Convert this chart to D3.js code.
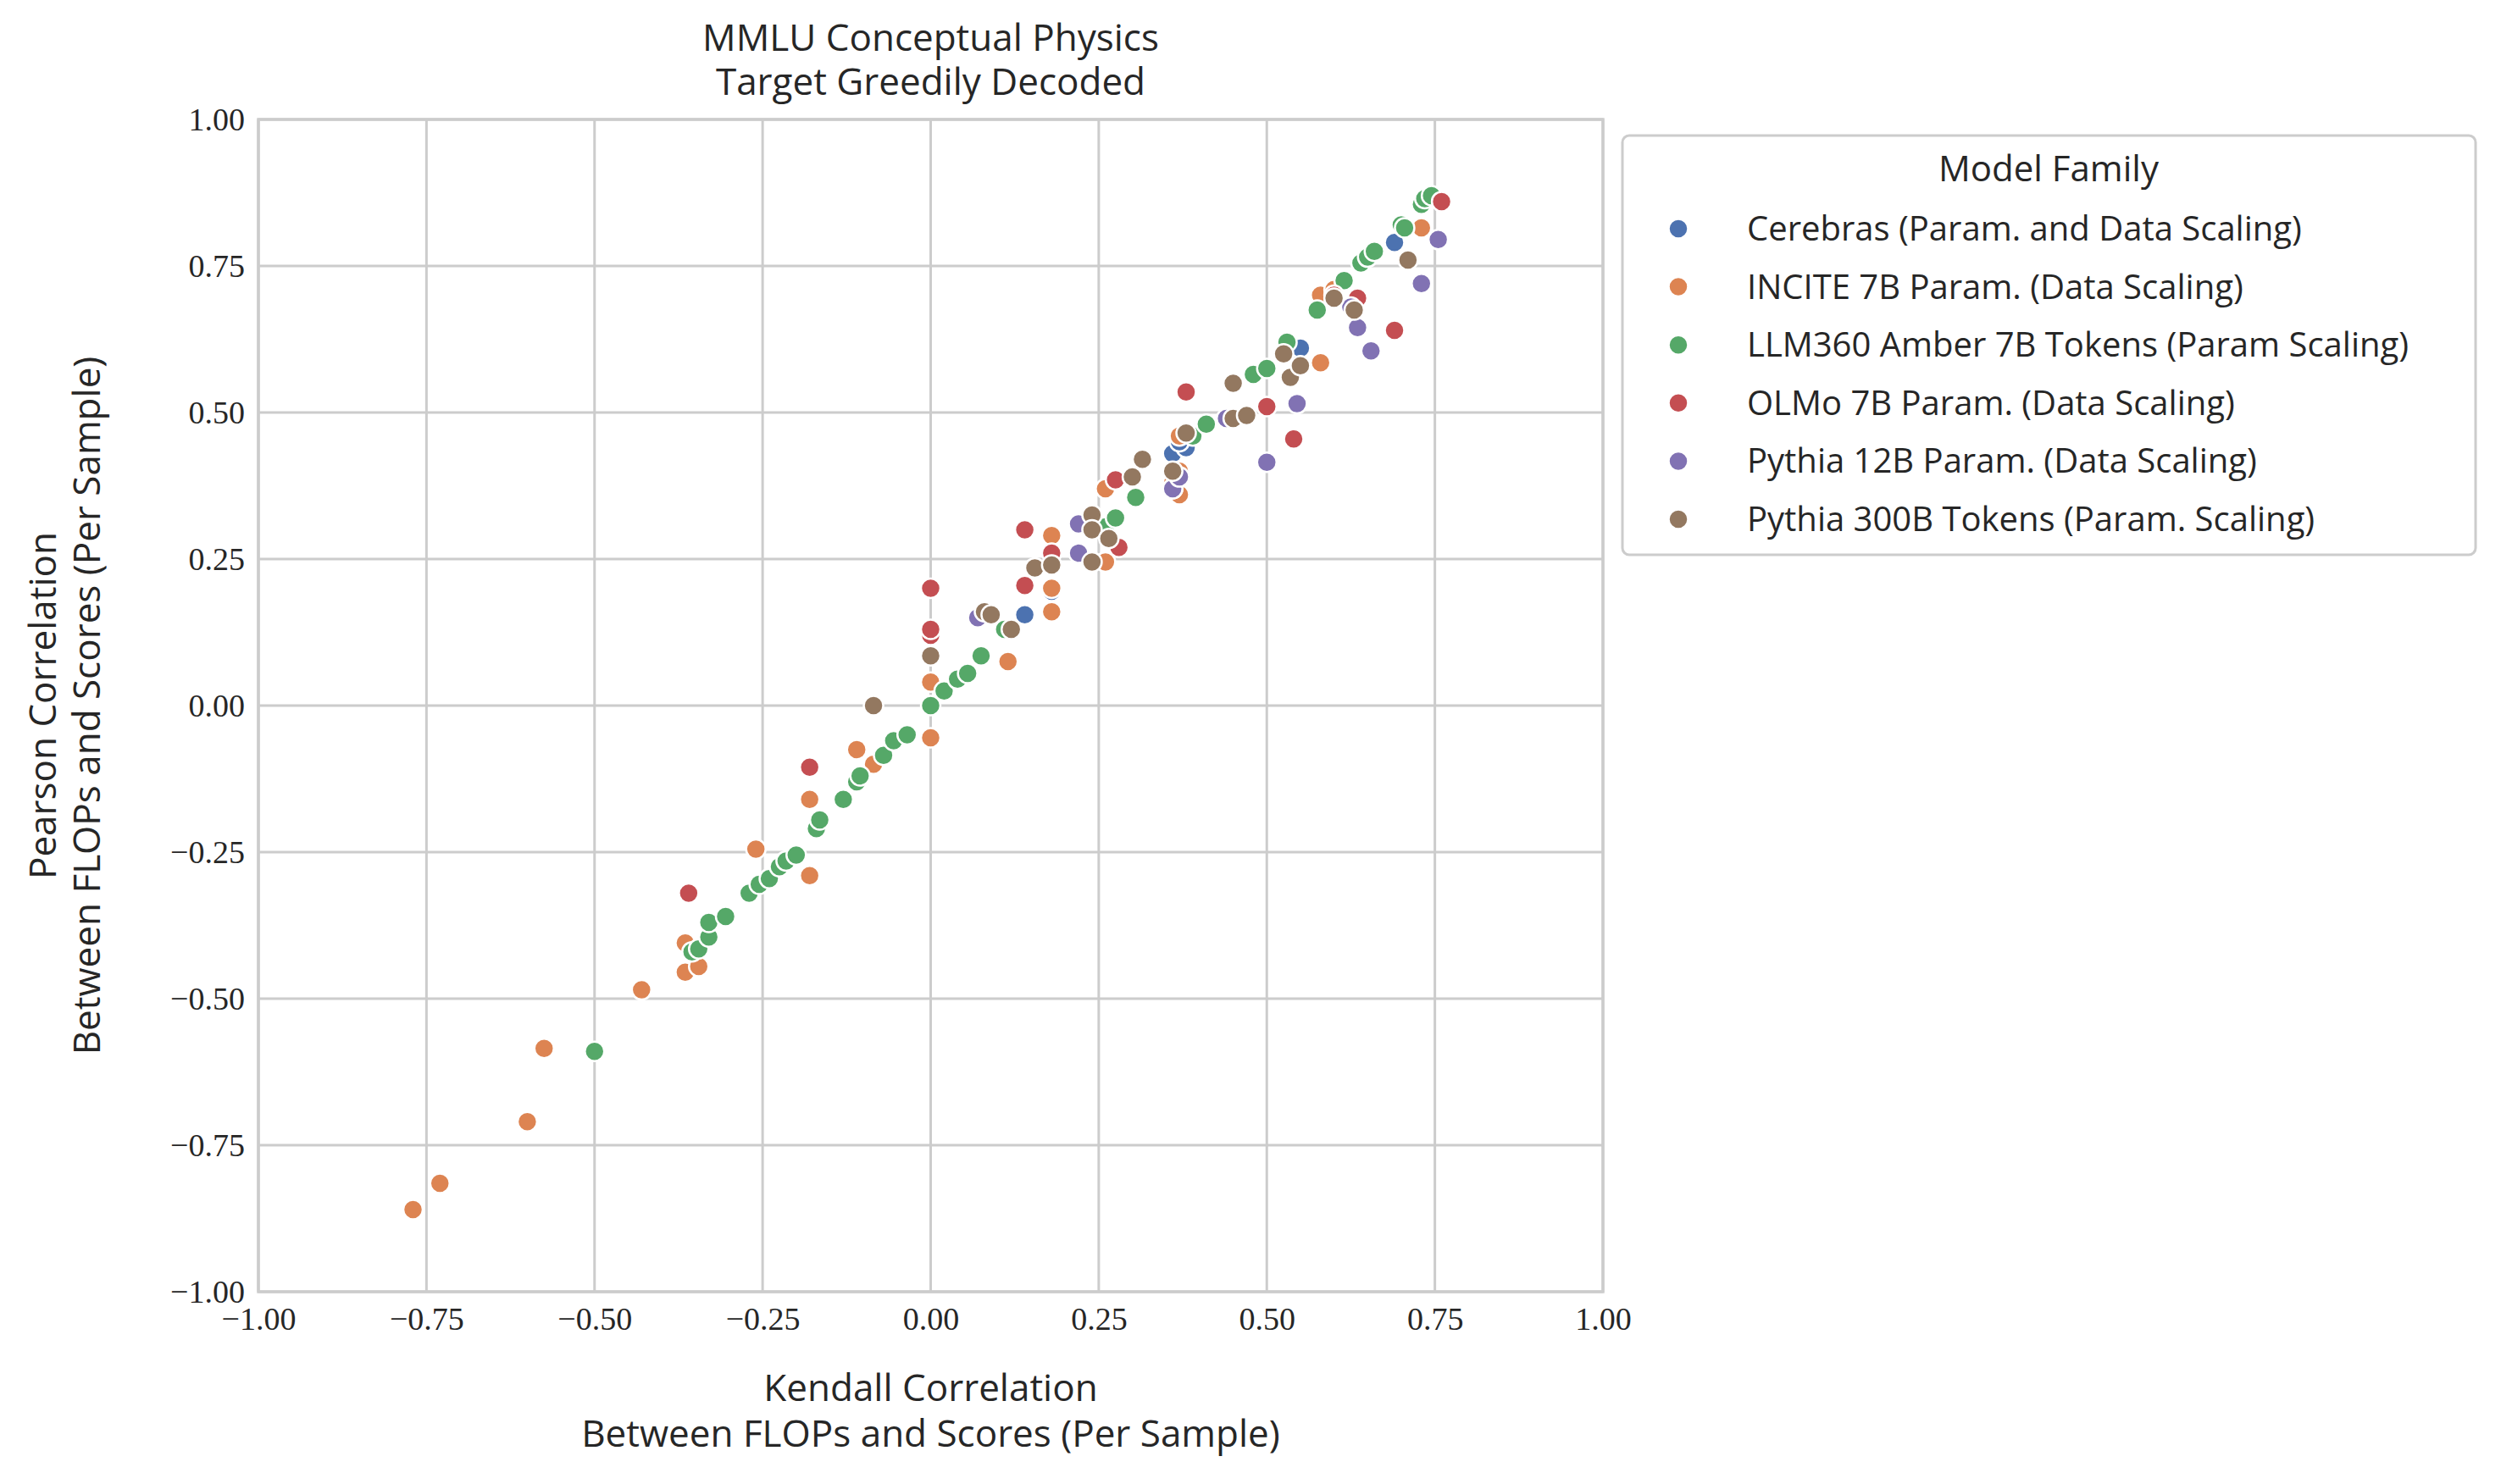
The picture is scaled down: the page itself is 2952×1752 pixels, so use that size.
<!DOCTYPE html>
<html><head><meta charset="utf-8">
<script src="https://cdn.jsdelivr.net/npm/d3@7"></script>
<style>body{margin:0;background:#fff}</style>
</head><body><div id="chart"></div>
<script>
// Series names and colours (seaborn "deep")
var families = ["Cerebras (Param. and Data Scaling)", "INCITE 7B Param. (Data Scaling)", "LLM360 Amber 7B Tokens (Param Scaling)",
	"OLMo 7B Param. (Data Scaling)", "Pythia 12B Param. (Data Scaling)", "Pythia 300B Tokens (Param. Scaling)"];
var colours = ["#4c72b0", "#dd8452", "#55a868", "#c44e52", "#8172b3", "#937860"];
var ticks = [-1, -0.75, -0.5, -0.25, 0, 0.25, 0.5, 0.75, 1];

// [kendall, pearson]
var cerebras = [[0.14,0.155],[0.18,0.195],[0.36,0.43],[0.38,0.44],[0.37,0.45],[0.53,0.6],[0.55,0.61],[0.69,0.79]];
var incite = [[-0.77,-0.86],[-0.73,-0.815],[-0.6,-0.71],[-0.575,-0.585],[-0.43,-0.485],[-0.365,-0.455],[-0.345,-0.445],
	[-0.365,-0.405],[-0.26,-0.245],[-0.18,-0.29],[-0.18,-0.16],[-0.11,-0.075],[-0.085,-0.1],[0,-0.055],[0,0.04],
	[0.115,0.075],[0.12,0.13],[0.18,0.16],[0.18,0.2],[0.18,0.29],[0.26,0.245],[0.26,0.37],[0.36,0.38],[0.37,0.36],
	[0.37,0.4],[0.37,0.46],[0.58,0.585],[0.58,0.7],[0.6,0.71],[0.73,0.815]];
var amber = [[-0.5,-0.59],[-0.355,-0.42],[-0.345,-0.415],[-0.33,-0.395],[-0.33,-0.37],[-0.305,-0.36],[-0.27,-0.32],
	[-0.255,-0.305],[-0.24,-0.295],[-0.225,-0.275],[-0.215,-0.265],[-0.2,-0.255],[-0.17,-0.21],[-0.165,-0.195],
	[-0.13,-0.16],[-0.11,-0.13],[-0.105,-0.12],[-0.07,-0.085],[-0.055,-0.06],[-0.035,-0.05],[0,0],[0.02,0.025],
	[0.04,0.045],[0.055,0.055],[0.075,0.085],[0.11,0.13],[0.26,0.305],[0.275,0.32],[0.305,0.355],[0.39,0.46],
	[0.41,0.48],[0.48,0.565],[0.5,0.575],[0.53,0.62],[0.575,0.675],[0.615,0.725],[0.64,0.755],[0.65,0.765],
	[0.66,0.775],[0.7,0.82],[0.705,0.815],[0.73,0.855],[0.735,0.865],[0.745,0.87]];
var olmo = [[-0.36,-0.32],[-0.18,-0.105],[0,0.2],[0,0.12],[0,0.13],[0.14,0.3],[0.14,0.205],[0.18,0.26],[0.28,0.27],
	[0.275,0.385],[0.36,0.37],[0.38,0.535],[0.5,0.51],[0.54,0.455],[0.6,0.7],[0.635,0.695],[0.69,0.64],[0.76,0.86]];
var pythia12 = [[0.07,0.15],[0.22,0.31],[0.22,0.26],[0.36,0.37],[0.37,0.39],[0.44,0.49],[0.5,0.415],[0.545,0.515],
	[0.625,0.68],[0.635,0.645],[0.655,0.605],[0.73,0.72],[0.755,0.795]];
var pythia300 = [[-0.085,0],[0,0.085],[0.08,0.16],[0.09,0.155],[0.12,0.13],[0.155,0.235],[0.18,0.24],[0.24,0.325],
	[0.24,0.3],[0.24,0.245],[0.265,0.285],[0.3,0.39],[0.315,0.42],[0.36,0.4],[0.38,0.465],[0.45,0.55],[0.45,0.49],
	[0.47,0.495],[0.525,0.6],[0.535,0.56],[0.55,0.58],[0.6,0.695],[0.63,0.675],[0.71,0.76]];
var seriesData = [cerebras, incite, amber, olmo, pythia12, pythia300];

(function() {
	var W = 2952, H = 1752;
	// plot area (window.top is reserved, hence the names)
	var pLeft = 305, pRight = 1892, pTop = 141, pBottom = 1525;
	var sans = "'Open Sans', 'DejaVu Sans', sans-serif";
	var serif = "'Liberation Serif', 'DejaVu Serif', serif";

	var svg = d3.select("#chart").append("svg").attr("width", W).attr("height", H);
	var x = d3.scaleLinear().domain([-1, 1]).range([pLeft, pRight]);
	var y = d3.scaleLinear().domain([-1, 1]).range([pBottom, pTop]);

	// grid
	svg.append("g").selectAll("line").data(ticks).join("line")
		.attr("x1", d => x(d)).attr("x2", d => x(d)).attr("y1", pTop).attr("y2", pBottom)
		.attr("stroke", "#cccccc").attr("stroke-width", 3);
	svg.append("g").selectAll("line").data(ticks).join("line")
		.attr("y1", d => y(d)).attr("y2", d => y(d)).attr("x1", pLeft).attr("x2", pRight)
		.attr("stroke", "#cccccc").attr("stroke-width", 3);
	svg.append("rect").attr("x", pLeft).attr("y", pTop).attr("width", pRight - pLeft).attr("height", pBottom - pTop)
		.attr("fill", "none").attr("stroke", "#cccccc").attr("stroke-width", 3.5);

	var fmt = d => (d < 0 ? "\u2212" : "") + Math.abs(d).toFixed(2);
	var xAxis = svg.append("g").attr("transform", "translate(0," + pBottom + ")")
		.call(d3.axisBottom(x).tickValues(ticks).tickFormat(fmt).tickSize(0).tickPadding(18));
	var yAxis = svg.append("g").attr("transform", "translate(" + pLeft + ",0)")
		.call(d3.axisLeft(y).tickValues(ticks).tickFormat(fmt).tickSize(0).tickPadding(16));
	[xAxis, yAxis].forEach(function(a) {
		a.select(".domain").remove();
		a.selectAll("text").attr("font-family", serif).attr("font-size", 38).attr("fill", "#262626");
	});

	// points
	seriesData.forEach(function(pts, i) {
		svg.append("g").selectAll("circle").data(pts).join("circle")
			.attr("cx", d => x(d[0])).attr("cy", d => y(d[1])).attr("r", 11.5)
			.attr("fill", colours[i]).attr("stroke", "#fff").attr("stroke-width", 2.5);
	});

	function label(txt, px, py, size, rot) {
		var t = svg.append("text").attr("x", px).attr("y", py).attr("text-anchor", "middle")
			.attr("font-family", sans).attr("font-size", size).attr("fill", "#262626").text(txt);
		if (rot) t.attr("transform", "rotate(-90," + px + "," + py + ")");
		return t;
	}
	var cx = (pLeft + pRight) / 2;
	label("MMLU Conceptual Physics", cx, 60, 44);
	label("Target Greedily Decoded", cx, 112, 44);
	label("Kendall Correlation", cx, 1654, 44);
	label("Between FLOPs and Scores (Per Sample)", cx, 1708, 44);
	var cy = (pTop + pBottom) / 2;
	label("Pearson Correlation", 66, cy, 44, true);
	label("Between FLOPs and Scores (Per Sample)", 118, cy, 44, true);

	// legend
	svg.append("rect").attr("x", 1915).attr("y", 160).attr("width", 1007).attr("height", 495).attr("rx", 8)
		.attr("fill", "#fff").attr("stroke", "#cccccc").attr("stroke-width", 3);
	label("Model Family", 2418, 214, 42);
	families.forEach(function(f, i) {
		var ly = 270 + i * 68.6;
		svg.append("circle").attr("cx", 1981).attr("cy", ly).attr("r", 11.5).attr("fill", colours[i])
			.attr("stroke", "#fff").attr("stroke-width", 2.5);
		svg.append("text").attr("x", 2062).attr("y", ly + 14).attr("font-family", sans).attr("font-size", 40)
			.attr("fill", "#262626").text(f);
	});
})();
</script></body></html>
